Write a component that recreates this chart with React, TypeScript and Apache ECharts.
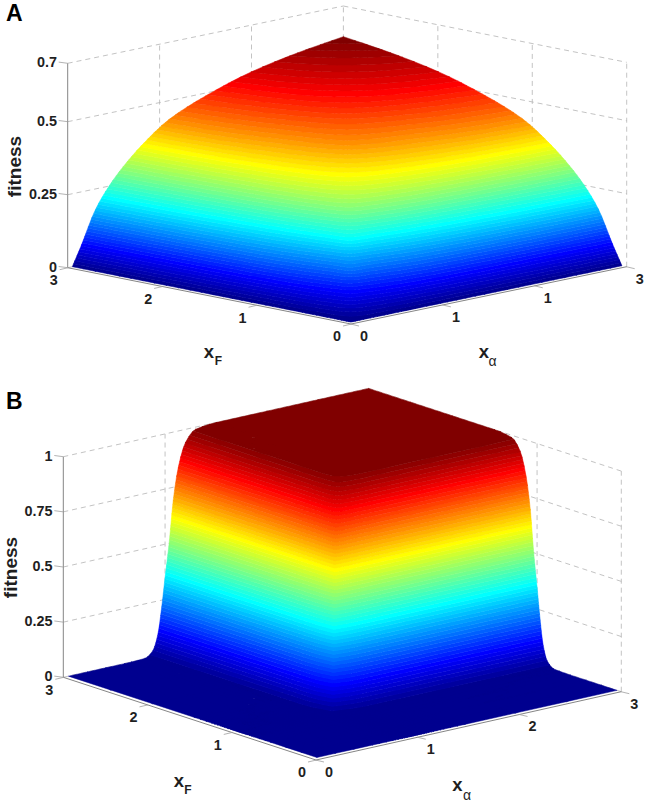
import React, { useEffect, useRef } from "react";
import * as echarts from "echarts";

// ---------- values ----------
// Panel A: fitness at (xF, xα); the surface is symmetric, rows hold the values for xα >= xF.
const gridA = [0.05, 0.15, 0.3, 0.45, 0.6, 0.8, 1.1, 1.5, 2, 2.5, 3];
const fitnessA = [
  [0, 0, 0, 0, 0, 0, 0, 0, 0, 0, 0],
  [0.012, 0.025, 0.032, 0.038, 0.044, 0.052, 0.058, 0.062, 0.066, 0.068],
  [0.065, 0.083, 0.097, 0.115, 0.136, 0.151, 0.163, 0.172, 0.178],
  [0.155, 0.169, 0.187, 0.207, 0.223, 0.235, 0.244, 0.25],
  [0.235, 0.25, 0.268, 0.282, 0.292, 0.3, 0.305],
  [0.3, 0.321, 0.337, 0.35, 0.359, 0.365],
  [0.365, 0.391, 0.41, 0.426, 0.435],
  [0.44, 0.462, 0.479, 0.49],
  [0.505, 0.527, 0.54],
  [0.555, 0.572],
  [0.595],
];
// Panel B
const gridB = [0.05, 0.6, 0.8, 0.88, 0.93, 0.97, 1, 1.04, 1.08, 1.13, 1.2, 1.3, 1.5, 3];
const fitnessB = [
  [0, 0, 0, 0, 0, 0, 0, 0, 0, 0, 0, 0, 0, 0],
  [0, 0, 0, 0, 0, 0, 0, 0, 0, 0, 0, 0, 0],
  [0, 0, 0, 0.001, 0.001, 0.002, 0.002, 0.003, 0.003, 0.003, 0.003, 0.003],
  [0.006, 0.008, 0.011, 0.014, 0.018, 0.022, 0.026, 0.029, 0.03, 0.03, 0.03],
  [0.03, 0.04, 0.049, 0.061, 0.076, 0.087, 0.095, 0.099, 0.1, 0.1],
  [0.095, 0.116, 0.142, 0.176, 0.201, 0.219, 0.228, 0.23, 0.23],
  [0.25, 0.273, 0.302, 0.325, 0.341, 0.349, 0.35, 0.35],
  [0.45, 0.469, 0.484, 0.494, 0.499, 0.5, 0.5],
  [0.655, 0.671, 0.683, 0.689, 0.69, 0.69],
  [0.795, 0.82, 0.833, 0.835, 0.835],
  [0.91, 0.935, 0.94, 0.94],
  [0.98, 0.99, 0.99],
  [1, 1],
  [1],
];
const floorTicks = [0, 1, 2, 3];
const floorLabelsF = ["0", "1", "2", "3"];
const floorLabelsAlphaA = ["0", "1", "1", "3"];
const floorLabelsAlphaB = ["0", "1", "2", "3"];
const zTicksA = [0, 0.25, 0.5, 0.7];
const zLabelsA = ["0", "0.25", "0.5", "0.7"];
const zTicksB = [0, 0.25, 0.5, 0.75, 1];
const zLabelsB = ["0", "0.25", "0.5", "0.75", "1"];

// ---------- geometry and style ----------
type V3 = [number, number, number];
const FONT = '"Liberation Sans", Arial, sans-serif';
const BANDS = 64;
const panelA = {
  front: [351, 324], left: [67.7, 267.7], right: [626.7, 266.7], zUnit: 292,
  zTop: 0.7,
};
const panelB = {
  front: [316, 760], left: [63.3, 677.3], right: [621.3, 691.7], zUnit: 220.6,
  zTop: 1,
};
function projector(p: any) {
  return ([f, a, z]: V3): [number, number] => [
    p.front[0] + (f * (p.left[0] - p.front[0])) / 3 + (a * (p.right[0] - p.front[0])) / 3,
    p.front[1] + (f * (p.left[1] - p.front[1])) / 3 + (a * (p.right[1] - p.front[1])) / 3 - z * p.zUnit,
  ];
}

function jet(k: number) {
  const t = k / BANDS;
  const c = (v: number) => Math.round(255 * Math.max(0, Math.min(1, v)));
  return `rgb(${c(Math.min(4 * t - 1.5, -4 * t + 4.5))},${c(Math.min(4 * t - 0.5, -4 * t + 3.5))},${c(Math.min(4 * t + 0.5, -4 * t + 2.5))})`;
}

// monotone mesh refinement between the values above, for the shading of the surface
function monotone(xs: number[], ys: number[]) {
  const n = xs.length;
  const h: number[] = [];
  const d: number[] = [];
  for (let i = 0; i < n - 1; i++) {
    h.push(xs[i + 1] - xs[i]);
    d.push((ys[i + 1] - ys[i]) / h[i]);
  }
  const m = new Array(n).fill(0);
  m[0] = d[0];
  m[n - 1] = d[n - 2];
  for (let i = 1; i < n - 1; i++) {
    if (d[i - 1] * d[i] > 0) {
      const w1 = 2 * h[i] + h[i - 1];
      const w2 = h[i] + 2 * h[i - 1];
      m[i] = (w1 + w2) / (w1 / d[i - 1] + w2 / d[i]);
    }
  }
  return (x: number) => {
    let i = 0;
    while (i < n - 2 && x > xs[i + 1]) i++;
    const s = (x - xs[i]) / h[i];
    const s2 = s * s;
    const s3 = s2 * s;
    return (
      (2 * s3 - 3 * s2 + 1) * ys[i] +
      (s3 - 2 * s2 + s) * h[i] * m[i] +
      (-2 * s3 + 3 * s2) * ys[i + 1] +
      (s3 - s2) * h[i] * m[i + 1]
    );
  };
}

function clip(poly: V3[], limit: number, above: boolean): V3[] {
  const out: V3[] = [];
  const inside = (v: V3) => (above ? v[2] >= limit : v[2] <= limit);
  for (let i = 0; i < poly.length; i++) {
    const p = poly[i];
    const q = poly[(i + 1) % poly.length];
    const pi = inside(p);
    const qi = inside(q);
    if (pi) out.push(p);
    if (pi !== qi) {
      const t = (limit - p[2]) / (q[2] - p[2]);
      out.push([p[0] + t * (q[0] - p[0]), p[1] + t * (q[1] - p[1]), limit]);
    }
  }
  return out;
}

function buildBands(grid: number[], rows: number[][], div: number) {
  const full = grid.map((_, i) => grid.map((_, j) => (i <= j ? rows[i][j - i] : rows[j][i - j])));
  const fine: number[] = [];
  for (let i = 0; i < grid.length - 1; i++) {
    for (let s = 0; s < div; s++) fine.push(grid[i] + ((grid[i + 1] - grid[i]) * s) / div);
  }
  fine.push(grid[grid.length - 1]);
  const byRow = full.map((r) => {
    const fn = monotone(grid, r);
    return fine.map((x) => fn(x));
  });
  const z = fine.map((_, j) => {
    const fn = monotone(grid, byRow.map((r) => r[j]));
    return fine.map((x) => Math.max(0, fn(x)));
  });
  let zMax = 0;
  for (const r of full) for (const v of r) zMax = Math.max(zMax, v);
  const bands: V3[][][] = Array.from({ length: BANDS }, () => []);
  const idx = (v: number) => Math.min(BANDS - 1, Math.floor((v / zMax) * BANDS));
  const addTri = (t: V3[]) => {
    const zs = t.map((v) => v[2]);
    const k0 = idx(Math.min(...zs));
    const k1 = idx(Math.max(...zs));
    for (let k = k0; k <= k1; k++) {
      let poly = t;
      if (k0 !== k1) {
        poly = clip(poly, (k / BANDS) * zMax, true);
        if (poly.length >= 3 && k < BANDS - 1) poly = clip(poly, ((k + 1) / BANDS) * zMax, false);
      }
      if (poly.length >= 3) bands[k].push(poly);
    }
  };
  for (let i = 0; i < fine.length - 1; i++) {
    for (let j = 0; j < fine.length - 1; j++) {
      const A: V3 = [fine[i], fine[j], z[i][j]];
      const B: V3 = [fine[i + 1], fine[j], z[i + 1][j]];
      const C: V3 = [fine[i + 1], fine[j + 1], z[i + 1][j + 1]];
      const D: V3 = [fine[i], fine[j + 1], z[i][j + 1]];
      addTri([A, B, C]);
      addTri([A, C, D]);
    }
  }
  return bands;
}

function surfaceSeries(name: string, panel: any, grid: number[], rows: number[][], div: number) {
  const project = projector(panel);
  const bands = buildBands(grid, rows, div);
  return {
    type: "custom",
    name,
    coordinateSystem: "cartesian2d",
    silent: true,
    clip: false,
    z: 2,
    data: bands.map((_, k) => [k, 0]),
    encode: { x: 0, y: 1 },
    renderItem: (params: any, api: any) => {
      const k = params.dataIndex;
      let d = "";
      for (const poly of bands[k]) {
        poly.forEach((v, i) => {
          const c = api.coord(project(v));
          d += `${i ? "L" : "M"}${c[0].toFixed(2)} ${c[1].toFixed(2)}`;
        });
        d += "Z";
      }
      const color = jet(k + 1);
      return {
        type: "path",
        shape: { pathData: d },
        style: { fill: color, stroke: color, lineWidth: 0.5 },
      };
    },
  };
}

type Mark =
  | { line: [V3, V3]; off?: number[]; kind: "dash" | "axis" | "tick" }
  | { text: string; at: number[]; size: number; align?: string; bold?: boolean; rot?: number; color?: string };

function decorations(panel: any, zTicks: number[], zLabels: string[], alphaLabels: string[], titles: Mark[]): Mark[] {
  const m: Mark[] = [];
  const project = projector(panel);
  const top = panel.zTop;
  for (const z of zTicks) {
    m.push({ line: [[3, 0, z], [3, 3, z]], kind: "dash" });
    m.push({ line: [[3, 3, z], [0, 3, z]], kind: "dash" });
  }
  for (const t of floorTicks) {
    if (t > 0) m.push({ line: [[3, t, 0], [3, t, top]], kind: "dash" });
    if (t < 3) m.push({ line: [[t, 3, 0], [t, 3, top]], kind: "dash" });
  }
  m.push({ line: [[3, 0, 0], [3, 0, top]], kind: "axis" });
  m.push({ line: [[3, 0, 0], [0, 0, 0]], kind: "axis" });
  m.push({ line: [[0, 0, 0], [0, 3, 0]], kind: "axis" });
  zTicks.forEach((z, i) => {
    const p = project([3, 0, z]);
    m.push({ line: [[3, 0, z], [3, 0, z]], off: [-9, -1.2, 0, 0], kind: "tick" });
    m.push({ text: zLabels[i], at: [p[0] - 10.8, p[1] - 1.2], size: 14.4, align: "right", bold: true });
  });
  floorTicks.forEach((t, i) => {
    const pf = project([t, 0, 0]);
    const pa = project([0, t, 0]);
    m.push({ line: [[t, 0, 0], [t, 0, 0]], off: [-8, 2, 0.5, 0], kind: "tick" });
    m.push({ line: [[0, t, 0], [0, t, 0]], off: [8, 2, -0.5, 0], kind: "tick" });
    m.push({ text: floorLabelsF[i], at: [pf[0] - 14, pf[1] + 12.4], size: 14.4, bold: true });
    m.push({ text: alphaLabels[i], at: [pa[0] + 13, pa[1] + 12], size: 14.4, bold: true });
  });
  return m.concat(titles);
}

const titlesA: Mark[] = [
  { text: "A", at: [14.2, 12.5], size: 23, bold: true, color: "#000" },
  { text: "fitness", at: [14.5, 166.5], size: 19, bold: true, rot: Math.PI / 2 },
  { text: "x", at: [209, 351], size: 18.5, bold: true },
  { text: "F", at: [218.5, 360.5], size: 12, bold: true },
  { text: "x", at: [484, 351.5], size: 18.5, bold: true },
  { text: "α", at: [492.5, 361], size: 14 },
];
const titlesB: Mark[] = [
  { text: "B", at: [14.2, 400.5], size: 23, bold: true, color: "#000" },
  { text: "fitness", at: [10, 567.5], size: 19, bold: true, rot: Math.PI / 2 },
  { text: "x", at: [179, 780], size: 18.5, bold: true },
  { text: "F", at: [188, 789.5], size: 12, bold: true },
  { text: "x", at: [457.5, 784.5], size: 18.5, bold: true },
  { text: "α", at: [467, 794.5], size: 14 },
];

function decorationSeries(name: string, panel: any, marks: Mark[], top: boolean) {
  const project = projector(panel);
  const use = marks.filter((m: any) => (m.kind === "dash" ? !top : top));
  return {
    type: "custom",
    name,
    coordinateSystem: "cartesian2d",
    silent: true,
    clip: false,
    z: top ? 3 : 1,
    data: use.map((_, i) => [i, 0]),
    encode: { x: 0, y: 1 },
    renderItem: (params: any, api: any) => {
      const m: any = use[params.dataIndex];
      if (m.line) {
        const off = m.off || [0, 0, 0, 0];
        const a = api.coord(project(m.line[0]));
        const b = api.coord(project(m.line[1]));
        const stroke = m.kind === "dash" ? "#b4b4b4" : m.kind === "axis" ? "#858585" : "#a0a0a0";
        return {
          type: "line",
          shape: { x1: a[0] + off[0], y1: a[1] + off[1], x2: b[0] + off[2], y2: b[1] + off[3] },
          style: {
            stroke,
            lineWidth: m.kind === "dash" ? 0.8 : m.kind === "axis" ? 1 : 0.8,
            lineDash: m.kind === "dash" ? [5, 4] : null,
            fill: null,
          },
        };
      }
      const c = api.coord(m.at);
      return {
        type: "text",
        x: c[0],
        y: c[1],
        rotation: m.rot || 0,
        style: {
          text: m.text,
          fill: m.color || "#1f1f1f",
          fontSize: m.size,
          fontWeight: m.bold ? "bold" : "normal",
          fontFamily: FONT,
          align: m.align || "center",
          verticalAlign: "middle",
        },
      };
    },
  };
}

export default function App() {
  const ref = useRef<HTMLDivElement>(null);
  useEffect(() => {
    const chart = echarts.init(ref.current!, null, { renderer: "svg" });
    const marksA = decorations(panelA, zTicksA, zLabelsA, floorLabelsAlphaA, titlesA);
    const marksB = decorations(panelB, zTicksB, zLabelsB, floorLabelsAlphaB, titlesB);
    chart.setOption({
      animation: false,
      backgroundColor: "#fff",
      grid: { left: 0, right: 0, top: 0, bottom: 0 },
      xAxis: { type: "value", min: 0, max: 646, show: false },
      yAxis: { type: "value", min: 0, max: 801, inverse: true, show: false },
      series: [
        decorationSeries("wallsA", panelA, marksA, false),
        decorationSeries("wallsB", panelB, marksB, false),
        surfaceSeries("fitnessA", panelA, gridA, fitnessA, 4),
        surfaceSeries("fitnessB", panelB, gridB, fitnessB, 3),
        decorationSeries("axesA", panelA, marksA, true),
        decorationSeries("axesB", panelB, marksB, true),
      ],
    });
    return () => chart.dispose();
  }, []);
  return <div ref={ref} style={{ position: "absolute", left: 0, top: 0, width: 646, height: 801 }} />;
}
